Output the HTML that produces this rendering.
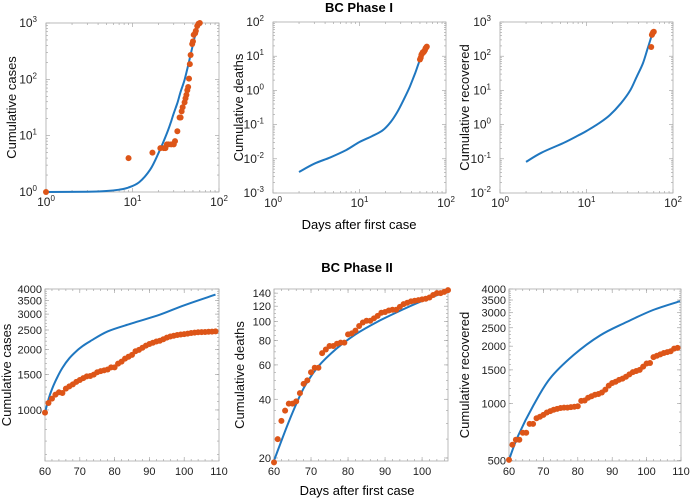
<!DOCTYPE html>
<html><head><meta charset="utf-8">
<style>
html,body{margin:0;padding:0;background:#fff;}
svg{display:block;font-family:"Liberation Sans",Arial,sans-serif;}
</style></head>
<body>
<svg id="fig" width="690" height="501" viewBox="0 0 690 501" xmlns="http://www.w3.org/2000/svg">
<text x="359" y="12" text-anchor="middle" font-size="13" font-weight="bold">BC Phase I</text>
<text x="357" y="272" text-anchor="middle" font-size="13" font-weight="bold">BC Phase II</text>
<text x="359" y="229" text-anchor="middle" font-size="13">Days after first case</text>
<text x="357" y="495" text-anchor="middle" font-size="13">Days after first case</text>
</svg>
<script>
// ---- Phase I data ----
const p1CasesDays = [1,9,17,21,23,24,25,26,28,30,31,33,35,36,37,38,40,41,42,43,44,45,46,47,49,50,51,53,54,56,58,60];
const p1CasesVals = [1,4,5,6,6,6,7,7,7,7,8,12,21,21,27,32,39,46,53,64,73,103,186,271,424,472,617,659,725,884,970,1000];
const p1CasesFitDays = [1,3,5,7,9,12,16,20,25,28,30,33,36,40,44,48,52,56,60];
const p1CasesFitVals = [1,1.01,1.04,1.1,1.2,1.5,2.5,4.9,11,18,25,38,60,98,178,316,537,794,1100];
const p1DeathsDays = [50,51,52,53,54,55,56,57,58,59,60];
const p1DeathsVals = [8,9,11,12,13,13,14,15,17,18,19];
const p1DeathsFitDays = [2,3,4.6,7,10,14,18.7,23,27,32,38,44,50,57];
const p1DeathsFitVals = [0.0041,0.0072,0.011,0.018,0.031,0.046,0.069,0.12,0.22,0.5,1.26,3.2,7.8,15];
const p1RecDays = [56,57,58,59,60];
const p1RecVals = [186,420,460,500,520];
const p1RecFitDays = [2,3,5.4,8,10,14,18.6,25,32,38,45,51,56];
const p1RecFitVals = [0.081,0.15,0.29,0.48,0.65,1.1,1.9,4.2,10,25,63,170,360];
// ---- Phase II data ----
const p2Days = [60,61,62,63,64,65,66,67,68,69,70,71,72,73,74,75,76,77,78,79,80,81,82,83,84,85,86,87,88,89,90,91,92,93,94,95,96,97,98,99,100,101,102,103,104,105,106,107,108,109];
const p2CasesVals = [970,1083,1138,1192,1224,1215,1276,1311,1340,1380,1410,1440,1470,1475,1500,1540,1560,1575,1590,1630,1630,1700,1740,1800,1840,1880,1960,1990,2040,2090,2130,2160,2190,2210,2250,2290,2320,2340,2360,2375,2385,2400,2415,2425,2435,2440,2445,2450,2455,2460];
const p2CasesFitDays = [60,61,62,63.5,65,67,69,71,73,78,85,93,100,109];
const p2CasesFitVals = [970,1130,1270,1450,1620,1810,1960,2090,2200,2460,2700,2980,3320,3750];
const p2DeathDays = [60,61,62,63,64,65,66,67,68,69,70,71,72,73,74,75,76,77,78,79,80,81,82,83,84,85,86,87,88,89,90,91,92,93,94,95,96,97,98,99,100,101,102,103,104,105,106,107];
const p2DeathVals = [19,25,31,35,38,38,39,43,48,50,55,58,58,69,72,75,75,77,78,78,86,87,90,95,99,101,101,104,107,111,112,114,115,115,119,123,125,127,128,129,130,131,133,137,140,140,142,145];
const p2DeathFitDays = [60,64,68,72,77,82,88,95,101,107];
const p2DeathFitVals = [19.4,30.7,45.5,59,73,86,100,116,130,143];
const p2RecVals = [504,605,643,643,700,700,780,780,835,850,870,895,910,925,935,945,950,950,955,960,965,1030,1035,1070,1090,1110,1120,1140,1180,1240,1280,1300,1330,1350,1380,1420,1460,1480,1500,1560,1620,1630,1750,1780,1810,1840,1860,1880,1940,1960];
const p2RecFitDays = [60,62.7,67.1,71.9,78.7,86.5,94.2,101.9,109.7];
const p2RecFitVals = [504,678,975,1350,1790,2280,2680,3100,3450];
// tick labels
const decadeTicksX = [1,10,100];
const p2XTicks = [60,70,80,90,100,110];
const p2DeathXTicks = [60,70,80,90,100];
const casesYTicks = [1000,1500,2000,2500,3000,3500,4000];
const deathYTicks = [20,40,60,80,100,120,140];
const recYTicks = [500,1000,1500,2000,2500,3000,3500,4000];

const NS = "http://www.w3.org/2000/svg";
const svg = document.getElementById('fig');
const BLUE = "#1f77c0", ORANGE = "#dd5518";
function mk(tag, attrs, parent){ const e=document.createElementNS(NS,tag); for(const k in attrs) e.setAttribute(k,attrs[k]); (parent||svg).appendChild(e); return e; }

function logScale(d0,d1,r0,r1){ const a=Math.log10(d0), b=Math.log10(d1); return v=> r0+(Math.log10(v)-a)/(b-a)*(r1-r0); }
function linScale(d0,d1,r0,r1){ return v=> r0+(v-d0)/(d1-d0)*(r1-r0); }
function smoothPath(pts){
  let d='M'+pts[0][0].toFixed(1)+','+pts[0][1].toFixed(1);
  for(let i=0;i<pts.length-1;i++){
    const p0=pts[Math.max(0,i-1)],p1=pts[i],p2=pts[i+1],p3=pts[Math.min(pts.length-1,i+2)];
    const c1=[p1[0]+(p2[0]-p0[0])/6,p1[1]+(p2[1]-p0[1])/6];
    const c2=[p2[0]-(p3[0]-p1[0])/6,p2[1]-(p3[1]-p1[1])/6];
    d+=` C${c1[0].toFixed(1)},${c1[1].toFixed(1)} ${c2[0].toFixed(1)},${c2[1].toFixed(1)} ${p2[0].toFixed(1)},${p2[1].toFixed(1)}`;
  }
  return d;
}

function panel(cfg){
  const g = mk('g',{});
  
  
  const {x0,x1,y0,y1} = cfg;
  const sx = cfg.xlog ? logScale(cfg.xd[0],cfg.xd[1],x0,x1) : linScale(cfg.xd[0],cfg.xd[1],x0,x1);
  const sy = logScale(cfg.yd[0],cfg.yd[1],y1,y0);
  const tk = mk('g',{stroke:'#999','stroke-width':0.6},g);
  
  
  cfg.xminor.forEach(v=>{ const X=sx(v); mk('line',{x1:X,x2:X,y1:y1,y2:y1-2},tk); mk('line',{x1:X,x2:X,y1:y0,y2:y0+2},tk); });
  cfg.yminor.forEach(v=>{ const Y=sy(v); mk('line',{x1:x0,x2:x0+2,y1:Y,y2:Y},tk); mk('line',{x1:x1,x2:x1-2,y1:Y,y2:Y},tk); });
  cfg.xticks.forEach(v=>{ const X=sx(v); mk('line',{x1:X,x2:X,y1:y1,y2:y1-4},tk); mk('line',{x1:X,x2:X,y1:y0,y2:y0+4},tk); });
  cfg.yticks.forEach(v=>{ const Y=sy(v); mk('line',{x1:x0,x2:x0+4,y1:Y,y2:Y},tk); mk('line',{x1:x1,x2:x1-4,y1:Y,y2:Y},tk); });
  const box = mk('rect',{x:x0,y:y0,width:x1-x0,height:y1-y0,fill:'none',stroke:'#aaa','stroke-width':0.8},g);
  
  
  cfg.xticks.forEach(v=>{
    const t = mk('text',{x:sx(v),y:y1+14,'text-anchor':'middle','font-size':cfg.pow?12:11,fill:'#222'},g);
    
    
    if(cfg.pow){ t.textContent='10'; const s=mk('tspan',{dy:-5,'font-size':8},t); s.textContent=String(Math.round(Math.log10(v))); }
    else t.textContent=String(v);
  });
  cfg.yticks.forEach(v=>{
    const t = mk('text',{x:x0-(cfg.pow?9:3),y:sy(v)+4,'text-anchor':'end','font-size':cfg.pow?12:11,fill:'#222'},g);
    
    
    if(cfg.pow){ t.textContent='10'; const s=mk('tspan',{dy:-5,'font-size':8},t); s.textContent=String(Math.round(Math.log10(v))); }
    else t.textContent=String(v);
  });
  const yl = mk('text',{transform:`translate(${cfg.ylx},${(y0+y1)/2}) rotate(-90)`,'text-anchor':'middle','font-size':13,fill:'#111'},g);
  
  
  yl.textContent = cfg.ylabel;
  const pts = cfg.fitX.map((v,i)=>[sx(v),sy(cfg.fitY[i])]);
  const ln = mk('path',{d:smoothPath(pts),fill:'none',stroke:BLUE,'stroke-width':2,'stroke-linejoin':'round'},g);
  
  
  cfg.ptX.forEach((v,i)=>{
    const c = mk('circle',{cx:sx(v),cy:sy(cfg.ptY[i]),r:3,fill:ORANGE},g);
    
    
  });
}
function decMinor(a,b){ const r=[]; for(let e=a;e<b;e++) for(let m=2;m<10;m++) r.push(m*Math.pow(10,e)); return r; }
function range(a,b,s){ const r=[]; for(let v=a;v<=b+1e-9;v+=s) r.push(v); return r; }

panel({name:'phase1-cases-panel',x0:46,x1:219,y0:23,y1:192,xlog:true,xd:[1,100],yd:[1,1000],pow:true,
  xticks:decadeTicksX,yticks:[1,10,100,1000],xminor:decMinor(0,2),yminor:decMinor(0,3),
  ylabel:'Cumulative cases',ylx:16,fitX:p1CasesFitDays,fitY:p1CasesFitVals,ptX:p1CasesDays,ptY:p1CasesVals});
panel({name:'phase1-deaths-panel',x0:273,x1:446,y0:22,y1:193,xlog:true,xd:[1,100],yd:[0.001,100],pow:true,
  xticks:decadeTicksX,yticks:[0.001,0.01,0.1,1,10,100],xminor:decMinor(0,2),yminor:decMinor(-3,2),
  ylabel:'Cumulative deaths',ylx:243,fitX:p1DeathsFitDays,fitY:p1DeathsFitVals,ptX:p1DeathsDays,ptY:p1DeathsVals});
panel({name:'phase1-recovered-panel',x0:500,x1:673,y0:22,y1:193,xlog:true,xd:[1,100],yd:[0.01,1000],pow:true,
  xticks:decadeTicksX,yticks:[0.01,0.1,1,10,100,1000],xminor:decMinor(0,2),yminor:decMinor(-2,3),
  ylabel:'Cumulative recovered',ylx:469,fitX:p1RecFitDays,fitY:p1RecFitVals,ptX:p1RecDays,ptY:p1RecVals});

panel({name:'phase2-cases-panel',x0:45,x1:219,y0:289,y1:461,xlog:false,xd:[60,110],yd:[557,4000],pow:false,
  xticks:p2XTicks,yticks:casesYTicks,xminor:range(60,110,2),yminor:range(600,4000,100),
  ylabel:'Cumulative cases',ylx:11,fitX:p2CasesFitDays,fitY:p2CasesFitVals,ptX:p2Days,ptY:p2CasesVals});
panel({name:'phase2-deaths-panel',x0:274,x1:448,y0:289,y1:461,xlog:false,xd:[60,107],yd:[19.3,147],pow:false,
  xticks:p2DeathXTicks,yticks:deathYTicks,xminor:range(60,106,2),yminor:range(20,140,5),
  ylabel:'Cumulative deaths',ylx:244,fitX:p2DeathFitDays,fitY:p2DeathFitVals,ptX:p2DeathDays,ptY:p2DeathVals});
panel({name:'phase2-recovered-panel',x0:509,x1:681,y0:289,y1:461,xlog:false,xd:[60,110],yd:[497,4000],pow:false,
  xticks:p2XTicks,yticks:recYTicks,xminor:range(60,110,2),yminor:range(500,4000,100),
  ylabel:'Cumulative recovered',ylx:469,fitX:p2RecFitDays,fitY:p2RecFitVals,ptX:p2Days,ptY:p2RecVals});
</script>
</body></html>
